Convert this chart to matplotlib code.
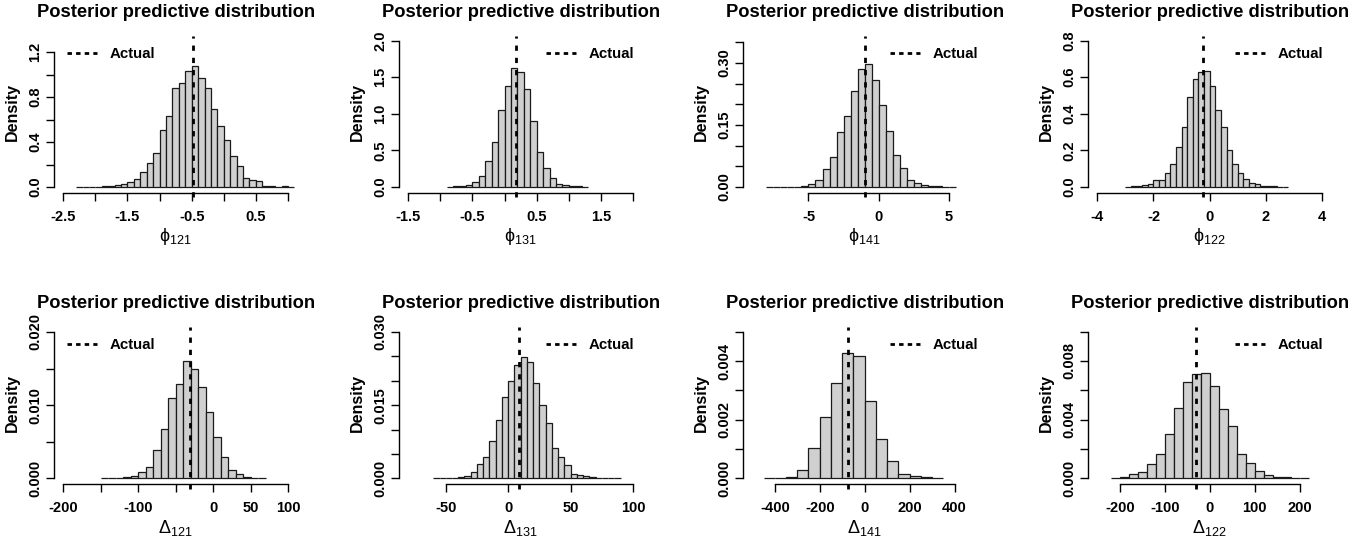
import matplotlib
matplotlib.use('Agg')
import matplotlib.pyplot as plt
import numpy as np
from matplotlib.lines import Line2D

plt.rcParams['font.family'] = ['Liberation Sans', 'DejaVu Sans']
plt.rcParams['mathtext.fontset'] = 'custom'
plt.rcParams['mathtext.rm'] = 'Liberation Sans'
plt.rcParams['mathtext.it'] = 'Liberation Sans'

# ------------------------------------------------------------------------------
# histogram densities (first break, bin width, densities)
phi121_start, phi121_width = -2.3, 0.1
phi121_dens = [0.003, 0.0, 0.0, 0.002, 0.005, 0.01, 0.018, 0.03, 0.045, 0.074,
               0.136, 0.216, 0.30, 0.504, 0.631, 0.88, 0.924, 1.031, 1.076,
               0.975, 0.88, 0.693, 0.542, 0.415, 0.273, 0.19, 0.08, 0.062,
               0.053, 0.012, 0.006, 0.003, 0.006, 0.003]
phi121_actual = -0.478

phi131_start, phi131_width = -0.9, 0.1
phi131_dens = [0.004, 0.009, 0.018, 0.03, 0.064, 0.155, 0.355, 0.614, 1.05,
               1.386, 1.627, 1.568, 1.336, 0.905, 0.473, 0.264, 0.127, 0.045,
               0.023, 0.018, 0.009, 0.005]
phi131_actual = 0.174

phi141_start, phi141_width = -8.0, 0.5
phi141_dens = [0.0005, 0.0, 0.0, 0.0005, 0.001, 0.002, 0.007, 0.017, 0.044,
               0.072, 0.132, 0.172, 0.233, 0.286, 0.298, 0.258, 0.199, 0.136,
               0.077, 0.046, 0.018, 0.0096, 0.005, 0.0024, 0.0016, 0.0008,
               0.0004]
phi141_actual = -0.99

phi122_start, phi122_width = -3.0, 0.2
phi122_dens = [0.002, 0.004, 0.005, 0.009, 0.016, 0.04, 0.04, 0.076, 0.127,
               0.22, 0.33, 0.49, 0.59, 0.63, 0.636, 0.55, 0.42, 0.327, 0.204,
               0.124, 0.076, 0.044, 0.024, 0.016, 0.007, 0.005, 0.004, 0.002,
               0.001]
phi122_actual = -0.234

delta121_start, delta121_width = -150, 10
delta121_dens = [0.00005, 0.00005, 0.0001, 0.00014, 0.00036, 0.0008, 0.0016,
                 0.0039, 0.0067, 0.011, 0.0129, 0.016, 0.0149, 0.0125, 0.009,
                 0.0056, 0.0029, 0.0012, 0.0006, 0.0002, 0.00005, 0.00003]
delta121_actual = -30.6

delta131_start, delta131_width = -60, 5
delta131_dens = [0.00007, 0.0, 0.0, 0.0001, 0.0003, 0.0005, 0.0012, 0.0029,
                 0.0044, 0.0076, 0.012, 0.0166, 0.0199, 0.0233, 0.0249, 0.0239,
                 0.0195, 0.015, 0.0114, 0.0063, 0.0044, 0.0027, 0.0009, 0.0006,
                 0.0004, 0.0002, 0.00007, 0.00003, 0.00003, 0.0001]
delta131_actual = 8.4

delta141_start, delta141_width = -450, 50
delta141_dens = [0.00001, 0.00002, 0.00006, 0.0003, 0.00103, 0.00209, 0.00326,
                 0.00428, 0.00416, 0.00264, 0.00133, 0.00059, 0.00014, 0.00008,
                 0.00003, 0.00001]
delta141_actual = -72

delta122_start, delta122_width = -220, 20
delta122_dens = [0.00005, 0.00011, 0.00027, 0.00041, 0.00098, 0.00164, 0.003,
                 0.00477, 0.00657, 0.00709, 0.0072, 0.00627, 0.0047, 0.00355,
                 0.00164, 0.00102, 0.00052, 0.00025, 0.00011, 0.00007, 0.00002,
                 0.00001]
delta122_actual = -30

# axis labels and ticks
xlabels = [r'$\phi_{121}$', r'$\phi_{131}$', r'$\phi_{141}$', r'$\phi_{122}$',
           r'$\Delta_{121}$', r'$\Delta_{131}$', r'$\Delta_{141}$', r'$\Delta_{122}$']

xlims = [(-2.5, 1.0), (-1.5, 2.0), (-9, 7), (-4, 4),
         (-200, 100), (-80, 100), (-500, 500), (-250, 250)]
ytops = [1.336, 2.05, 0.363, 0.82, 0.0205, 0.03075, 0.005114, 0.010227]

xticks = [[-2.5, -2, -1.5, -1, -0.5, 0, 0.5, 1.0],
          [-1.5, -1, -0.5, 0, 0.5, 1, 1.5, 2.0],
          [-5, 0, 5],
          [-4, -2, 0, 2, 4],
          [-200, -150, -100, -50, 0, 50, 100],
          [-50, 0, 50, 100],
          [-400, -200, 0, 200, 400],
          [-200, -100, 0, 100, 200]]
xticklabels = [['-2.5', '', '-1.5', '', '-0.5', '', '0.5', ''],
               ['-1.5', '', '-0.5', '', '0.5', '', '1.5', ''],
               ['-5', '0', '5'],
               ['-4', '-2', '0', '2', '4'],
               ['-200', '', '-100', '', '0', '50', '100'],
               ['-50', '0', '50', '100'],
               ['-400', '-200', '0', '200', '400'],
               ['-200', '-100', '0', '100', '200']]

yticks = [[0, 0.2, 0.4, 0.6, 0.8, 1.0, 1.2],
          [0, 0.5, 1.0, 1.5, 2.0],
          [0, 0.05, 0.10, 0.15, 0.20, 0.25, 0.30, 0.35],
          [0, 0.2, 0.4, 0.6, 0.8],
          [0, 0.005, 0.010, 0.015, 0.020],
          [0, 0.005, 0.010, 0.015, 0.020, 0.025, 0.030],
          [0, 0.001, 0.002, 0.003, 0.004, 0.005],
          [0, 0.002, 0.004, 0.006, 0.008, 0.010]]
yticklabels = [['0.0', '', '0.4', '', '0.8', '', '1.2'],
               ['0.0', '0.5', '1.0', '1.5', '2.0'],
               ['0.00', '', '', '0.15', '', '', '0.30', ''],
               ['0.0', '0.2', '0.4', '0.6', '0.8'],
               ['0.000', '', '0.010', '', '0.020'],
               ['0.000', '', '', '0.015', '', '', '0.030'],
               ['0.000', '', '0.002', '', '0.004', ''],
               ['0.000', '', '0.004', '', '0.008', '']]

legend_left = [True, False, False, False, True, False, False, False]

panels = [
    (phi121_start, phi121_width, phi121_dens, phi121_actual),
    (phi131_start, phi131_width, phi131_dens, phi131_actual),
    (phi141_start, phi141_width, phi141_dens, phi141_actual),
    (phi122_start, phi122_width, phi122_dens, phi122_actual),
    (delta121_start, delta121_width, delta121_dens, delta121_actual),
    (delta131_start, delta131_width, delta131_dens, delta131_actual),
    (delta141_start, delta141_width, delta141_dens, delta141_actual),
    (delta122_start, delta122_width, delta122_dens, delta122_actual),
]

# ------------------------------------------------------------------------------
W, H = 1349, 539
fig = plt.figure(figsize=(W / 100, H / 100), dpi=100)

lefts = [54.3, 399.3, 743.3, 1088.3]   # plot region, pixels
tops  = [31.0, 322.3]
pw, ph = 242.7, 162.0

for i, (start, width, dens, actual) in enumerate(panels):
    row, col = divmod(i, 4)
    ax = fig.add_axes([lefts[col] / W, 1 - (tops[row] + ph) / H, pw / W, ph / H])

    dens  = np.array(dens)
    edges = start + width * np.arange(len(dens))
    ax.bar(edges, dens, width=width, align='edge', color='#d0d0d0',
           edgecolor='#1a1a1a', linewidth=0.9)

    ax.axvline(actual, ymin=-0.027, ymax=0.97, color='black', lw=2.0,
               dashes=(1.9, 2.5), clip_on=False)

    # R style 4% extension of the axis ranges
    lo, hi = xlims[i]
    ax.set_xlim(lo - 0.04 * (hi - lo), hi + 0.04 * (hi - lo))
    ax.set_ylim(-0.04 * ytops[i], 1.04 * ytops[i])

    for s in ('top', 'right'):
        ax.spines[s].set_visible(False)
    ax.spines['left'].set_bounds(yticks[i][0], yticks[i][-1])
    ax.spines['bottom'].set_bounds(xticks[i][0], xticks[i][-1])
    for s in ('left', 'bottom'):
        ax.spines[s].set_linewidth(1.0)

    ax.set_xticks(xticks[i], xticklabels[i], fontsize=10.5, fontweight='bold')
    ax.set_yticks(yticks[i], yticklabels[i], fontsize=10.5, fontweight='bold',
                  rotation=90, va='center')
    ax.tick_params(axis='both', direction='out', length=6, width=1.0)
    ax.tick_params(axis='x', pad=6.2)
    ax.tick_params(axis='y', pad=2.5)

    ax.set_ylabel('Density', fontsize=11.5, fontweight='bold')
    ax.yaxis.set_label_coords(-0.14, 0.5)
    ax.set_xlabel(xlabels[i], fontsize=13)
    ax.xaxis.set_label_coords(0.5, -0.205)

    ax.set_title('Posterior predictive distribution', fontsize=13.25,
                 fontweight='bold', pad=10.4)

    handle = Line2D([], [], color='black', lw=2.0, dashes=(1.6, 1.5))
    if legend_left[i]:
        ax.legend([handle], ['Actual'], loc='upper left', frameon=False,
                  prop={'size': 10.8, 'weight': 'bold'}, handlelength=2.0,
                  handletextpad=0.82, borderaxespad=0.5, borderpad=0.37,
                  bbox_to_anchor=(0, 1 - 3 / ph))
    else:
        ax.legend([handle], ['Actual'], loc='upper right', frameon=False,
                  prop={'size': 10.8, 'weight': 'bold'}, handlelength=2.0,
                  handletextpad=0.82, borderaxespad=0.5, borderpad=0.37,
                  bbox_to_anchor=(1 + 5 / pw, 1 - 3 / ph))

fig.savefig('out.png', dpi=100)
